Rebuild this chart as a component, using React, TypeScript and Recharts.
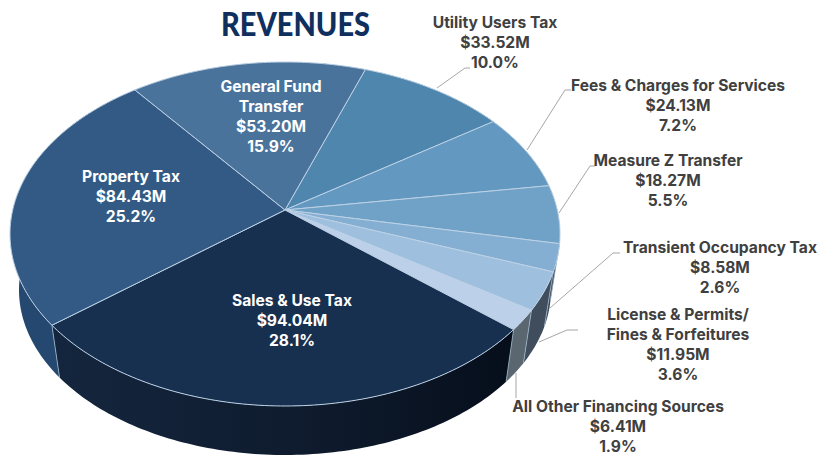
import React from 'react';
import { PieChart, Pie, Cell } from 'recharts';

const categories = [
  'Utility Users Tax',
  'Fees & Charges for Services',
  'Measure Z Transfer',
  'Transient Occupancy Tax',
  'License & Permits/ Fines & Forfeitures',
  'All Other Financing Sources',
  'Sales & Use Tax',
  'Property Tax',
  'General Fund Transfer',
];
const amounts = [33.52, 24.13, 18.27, 8.58, 11.95, 6.41, 94.04, 84.43, 53.2];
const percents = ['10.0%', '7.2%', '5.5%', '2.6%', '3.6%', '1.9%', '28.1%', '25.2%', '15.9%'];

const topColors = ['#4f86ae', '#6398c0', '#70a2c7', '#85afd2', '#9fbfde', '#bcd0e9', '#17304f', '#335a84', '#4a739c'];
const wallColors = ['#35597a', '#42667f', '#4a6a85', '#3c4a5a', '#3f4d5c', '#5a6670', 'url(#salesWall)', '#24486f', '#2f4f6f'];

// where each label sits: centre x, centre y of first line, line breaks, colour
const labelLines = [
  ['Utility Users Tax'],
  ['Fees & Charges for Services'],
  ['Measure Z Transfer'],
  ['Transient Occupancy Tax'],
  ['License & Permits/', 'Fines & Forfeitures'],
  ['All Other Financing Sources'],
  ['Sales & Use Tax'],
  ['Property Tax'],
  ['General Fund', 'Transfer'],
];
const labelAnchors = [
  [495, 23], [678, 86], [668, 161], [720, 248], [678, 315], [618, 407], [292, 301], [131, 177], [271, 87],
];
const leaders: (number[][] | null)[] = [
  [[437, 88], [465, 68], [470, 68]],
  [[527, 150], [565, 90], [571, 90]],
  [[559, 213], [590, 166], [595, 166]],
  [[550, 308], [613, 253], [620, 253]],
  [[539, 342], [567, 330], [578, 330]],
  [[516, 373], [516, 398]],
  null,
  null,
  null,
];

const chartData = categories.map((name, i) => ({ name, value: amounts[i] }));

// the picture is a tilted pie, the apex sits above the centre of the ellipse
const SQUASH = 172 / 275;
const TILT = 24 / 172;
const WALL_X = 266 / 275;
const WALL_Y = 165 / 275;
const WALL_DROP = 56;

const RAD = Math.PI / 180;

const onDisc = (deg: number) => {
  const u = Math.cos(deg * RAD);
  const v = -Math.sin(deg * RAD);
  const d = 1 - TILT * v;
  return { u: (u * Math.sqrt(1 - TILT * TILT)) / d, v: (v - TILT) / d };
};

const rimAngles = (start: number, end: number) => {
  const out: number[] = [];
  const steps = Math.max(2, Math.ceil(Math.abs(start - end)));
  for (let i = 0; i <= steps; i++) out.push(start + ((end - start) * i) / steps);
  return out;
};

const topPoint = (p: any, deg: number) => {
  const { u, v } = onDisc(deg);
  return [p.cx + u * p.outerRadius, p.cy + v * p.outerRadius * SQUASH];
};

const wallPoint = (p: any, deg: number) => {
  const { u, v } = onDisc(deg);
  return [p.cx + u * p.outerRadius * WALL_X, p.cy + WALL_DROP + v * p.outerRadius * WALL_Y];
};

const toPath = (pts: number[][]) =>
  'M' + pts.map(q => `${q[0].toFixed(2)},${q[1].toFixed(2)}`).join('L') + 'Z';

const TopSlice = (p: any) => {
  const apex = [p.cx, p.cy - TILT * p.outerRadius * SQUASH];
  const rim = rimAngles(p.startAngle, p.endAngle).map(a => topPoint(p, a));
  return <path d={toPath([apex, ...rim])} fill={p.fill} stroke="#bcd1e5" strokeWidth={1} strokeLinejoin="round" />;
};

const WallSlice = (p: any) => {
  const angles = rimAngles(p.startAngle, p.endAngle);
  const top = angles.map(a => topPoint(p, a));
  const bottom = angles.map(a => wallPoint(p, a)).reverse();
  const a = topPoint(p, p.startAngle);
  const b = wallPoint(p, p.startAngle);
  return (
    <g>
      <path d={toPath([...top, ...bottom])} fill={p.fill} />
      <line x1={a[0]} y1={a[1]} x2={b[0]} y2={b[1]} stroke="#9fb6cc" strokeWidth={0.8} />
    </g>
  );
};

const SliceLabel = (p: any) => {
  const i = p.index;
  const [x, y] = labelAnchors[i];
  const inside = i >= 6;
  const lines = [...labelLines[i], `$${amounts[i].toFixed(2)}M`, percents[i]];
  const leader = leaders[i];
  return (
    <g>
      {leader && (
        <polyline points={leader.map(q => q.join(',')).join(' ')} fill="none" stroke="#a6a6a6" strokeWidth={1} />
      )}
      <text
        textAnchor="middle"
        fontFamily="Inter, sans-serif"
        fontWeight={700}
        fontSize={15.6}
        fill={inside ? '#ffffff' : '#404040'}
      >
        {lines.map((t, k) => (
          <tspan key={k} x={x} y={y + 5 + k * 20}>
            {t}
          </tspan>
        ))}
      </text>
    </g>
  );
};

export default function App() {
  return (
    <div style={{ position: 'absolute', left: 0, top: 0, width: 820, height: 456, background: '#fff' }}>
      <PieChart width={820} height={456} margin={{ top: 0, right: 0, bottom: 0, left: 0 }}>
        <defs>
          <linearGradient id="salesWall" x1="0" y1="0" x2="1" y2="0">
            <stop offset="0%" stopColor="#14263e" />
            <stop offset="60%" stopColor="#0e1a2c" />
            <stop offset="100%" stopColor="#060e1b" />
          </linearGradient>
        </defs>
        <Pie
          data={chartData}
          dataKey="value"
          nameKey="name"
          cx={285}
          cy={234}
          innerRadius={0}
          outerRadius={275}
          startAngle={70.5}
          endAngle={-289.5}
          stroke="none"
          shape={WallSlice}
          isAnimationActive={false}
        >
          {chartData.map((d, i) => (
            <Cell key={d.name} fill={wallColors[i]} />
          ))}
        </Pie>
        <Pie
          data={chartData}
          dataKey="value"
          nameKey="name"
          cx={285}
          cy={234}
          innerRadius={0}
          outerRadius={275}
          startAngle={70.5}
          endAngle={-289.5}
          shape={TopSlice}
          label={SliceLabel}
          labelLine={false}
          isAnimationActive={false}
        >
          {chartData.map((d, i) => (
            <Cell key={d.name} fill={topColors[i]} />
          ))}
        </Pie>
      </PieChart>
      <div
        style={{
          position: 'absolute',
          left: 221,
          top: 4,
          fontFamily: 'Lato, sans-serif',
          fontWeight: 900,
          fontSize: 32,
          lineHeight: '40px',
          color: '#0f2f5f',
          transform: 'scaleX(0.905)',
          transformOrigin: 'left center',
        }}
      >
        REVENUES
      </div>
    </div>
  );
}
